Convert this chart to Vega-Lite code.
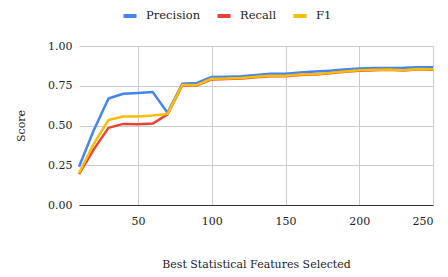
{
  "$schema": "https://vega.github.io/schema/vega-lite/v6.json",
  "width": 354,
  "height": 159,
  "autosize": {"type": "none"},
  "padding": {"left": 79, "top": 46, "right": 15, "bottom": 72},
  "background": "white",
  "config": {
    "font": "DejaVu Serif",
    "view": {"stroke": null}
  },
  "data": {
    "values": [
      {"k": 10, "metric": "Precision", "score": 0.24},
      {"k": 20, "metric": "Precision", "score": 0.47},
      {"k": 30, "metric": "Precision", "score": 0.67},
      {"k": 40, "metric": "Precision", "score": 0.70},
      {"k": 50, "metric": "Precision", "score": 0.705},
      {"k": 60, "metric": "Precision", "score": 0.71},
      {"k": 70, "metric": "Precision", "score": 0.58},
      {"k": 80, "metric": "Precision", "score": 0.762},
      {"k": 90, "metric": "Precision", "score": 0.768},
      {"k": 100, "metric": "Precision", "score": 0.805},
      {"k": 110, "metric": "Precision", "score": 0.806},
      {"k": 120, "metric": "Precision", "score": 0.809},
      {"k": 130, "metric": "Precision", "score": 0.817},
      {"k": 140, "metric": "Precision", "score": 0.825},
      {"k": 150, "metric": "Precision", "score": 0.826},
      {"k": 160, "metric": "Precision", "score": 0.833},
      {"k": 170, "metric": "Precision", "score": 0.839},
      {"k": 180, "metric": "Precision", "score": 0.845},
      {"k": 190, "metric": "Precision", "score": 0.852},
      {"k": 200, "metric": "Precision", "score": 0.859},
      {"k": 210, "metric": "Precision", "score": 0.861},
      {"k": 220, "metric": "Precision", "score": 0.862},
      {"k": 230, "metric": "Precision", "score": 0.863},
      {"k": 240, "metric": "Precision", "score": 0.867},
      {"k": 250, "metric": "Precision", "score": 0.866},
      {"k": 10, "metric": "Recall", "score": 0.195},
      {"k": 20, "metric": "Recall", "score": 0.35},
      {"k": 30, "metric": "Recall", "score": 0.485},
      {"k": 40, "metric": "Recall", "score": 0.51},
      {"k": 50, "metric": "Recall", "score": 0.508},
      {"k": 60, "metric": "Recall", "score": 0.512},
      {"k": 70, "metric": "Recall", "score": 0.57},
      {"k": 80, "metric": "Recall", "score": 0.752},
      {"k": 90, "metric": "Recall", "score": 0.752},
      {"k": 100, "metric": "Recall", "score": 0.79},
      {"k": 110, "metric": "Recall", "score": 0.792},
      {"k": 120, "metric": "Recall", "score": 0.796},
      {"k": 130, "metric": "Recall", "score": 0.803},
      {"k": 140, "metric": "Recall", "score": 0.81},
      {"k": 150, "metric": "Recall", "score": 0.81},
      {"k": 160, "metric": "Recall", "score": 0.818},
      {"k": 170, "metric": "Recall", "score": 0.82},
      {"k": 180, "metric": "Recall", "score": 0.828},
      {"k": 190, "metric": "Recall", "score": 0.838},
      {"k": 200, "metric": "Recall", "score": 0.845},
      {"k": 210, "metric": "Recall", "score": 0.848},
      {"k": 220, "metric": "Recall", "score": 0.85},
      {"k": 230, "metric": "Recall", "score": 0.846},
      {"k": 240, "metric": "Recall", "score": 0.853},
      {"k": 250, "metric": "Recall", "score": 0.851},
      {"k": 10, "metric": "F1", "score": 0.20},
      {"k": 20, "metric": "F1", "score": 0.385},
      {"k": 30, "metric": "F1", "score": 0.535},
      {"k": 40, "metric": "F1", "score": 0.557},
      {"k": 50, "metric": "F1", "score": 0.557},
      {"k": 60, "metric": "F1", "score": 0.563},
      {"k": 70, "metric": "F1", "score": 0.573},
      {"k": 80, "metric": "F1", "score": 0.755},
      {"k": 90, "metric": "F1", "score": 0.755},
      {"k": 100, "metric": "F1", "score": 0.794},
      {"k": 110, "metric": "F1", "score": 0.795},
      {"k": 120, "metric": "F1", "score": 0.799},
      {"k": 130, "metric": "F1", "score": 0.806},
      {"k": 140, "metric": "F1", "score": 0.813},
      {"k": 150, "metric": "F1", "score": 0.813},
      {"k": 160, "metric": "F1", "score": 0.821},
      {"k": 170, "metric": "F1", "score": 0.823},
      {"k": 180, "metric": "F1", "score": 0.831},
      {"k": 190, "metric": "F1", "score": 0.84},
      {"k": 200, "metric": "F1", "score": 0.848},
      {"k": 210, "metric": "F1", "score": 0.85},
      {"k": 220, "metric": "F1", "score": 0.852},
      {"k": 230, "metric": "F1", "score": 0.848},
      {"k": 240, "metric": "F1", "score": 0.855},
      {"k": 250, "metric": "F1", "score": 0.853}
    ]
  },
  "mark": {"type": "line", "strokeWidth": 2.5, "strokeJoin": "round"},
  "encoding": {
    "x": {
      "field": "k",
      "type": "quantitative",
      "scale": {"domain": [10, 250], "nice": false, "zero": false},
      "axis": {
        "title": "Best Statistical Features Selected",
        "values": [50, 100, 150, 200, 250],
        "grid": true,
        "gridColor": "#cccccc",
        "domain": true,
        "domainColor": "#333333",
        "domainWidth": 1.2,
        "ticks": false,
        "labelFontSize": 11,
        "labelColor": "#222222",
        "labelPadding": 10,
        "titleFontSize": 11,
        "titleFontWeight": "normal",
        "titleColor": "#222222",
        "titlePadding": 32
      }
    },
    "y": {
      "field": "score",
      "type": "quantitative",
      "scale": {"domain": [0, 1], "nice": false},
      "axis": {
        "title": "Score",
        "values": [0, 0.25, 0.5, 0.75, 1],
        "format": ".2f",
        "grid": true,
        "gridColor": "#cccccc",
        "domain": false,
        "ticks": false,
        "labelFontSize": 11,
        "labelColor": "#222222",
        "labelPadding": 7,
        "titleFontSize": 11,
        "titleFontWeight": "normal",
        "titleColor": "#222222",
        "titlePadding": 21
      }
    },
    "color": {
      "field": "metric",
      "type": "nominal",
      "sort": ["Precision", "Recall", "F1"],
      "scale": {"domain": ["Precision", "Recall", "F1"], "range": ["#4285F4", "#EA4335", "#FBBC04"]},
      "legend": {
        "title": null,
        "orient": "none",
        "direction": "horizontal",
        "legendX": 42,
        "legendY": -39,
        "symbolType": "stroke",
        "symbolStrokeWidth": 4,
        "symbolSize": 170,
        "labelFontSize": 11.5,
        "labelColor": "#222222",
        "labelOffset": 7,
        "columnPadding": 8
      }
    },
    "order": {"field": "k", "type": "quantitative"}
  }
}
